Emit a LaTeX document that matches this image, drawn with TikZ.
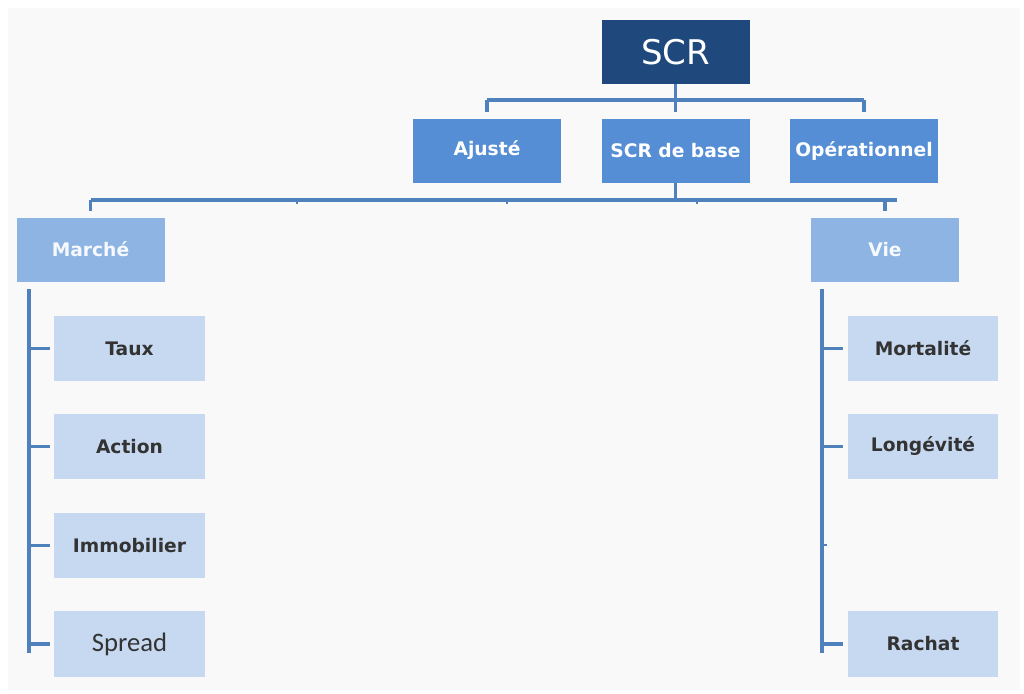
\documentclass[tikz,border=0pt]{standalone}
\usepackage{fontspec}
\setmainfont{DejaVu Sans}
\newfontfamily\carlito{Carlito}
\definecolor{navy}{HTML}{1F497D}
\definecolor{midblue}{HTML}{558ED5}
\definecolor{softblue}{HTML}{8DB4E2}
\definecolor{paleblue}{HTML}{C6D9F1}
\definecolor{linkblue}{HTML}{4F81BD}
\definecolor{bg}{HTML}{F9F9F9}
\definecolor{ink}{HTML}{333333}
\tikzset{
  box/.style={rectangle, inner sep=0pt, minimum width=111pt, minimum height=48pt},
  rootbox/.style={box, fill=navy, text=white, font=\fontsize{25.5}{30}\selectfont},
  levelone/.style={box, fill=midblue, text=white, font=\bfseries\fontsize{14}{16}\selectfont},
  leveltwo/.style={box, fill=softblue, text=white!92!softblue, font=\bfseries\fontsize{14}{16}\selectfont},
  leaf/.style={box, minimum width=113pt, minimum height=49pt, fill=paleblue, text=ink, font=\bfseries\fontsize{14}{16}\selectfont},
  link/.style={draw=linkblue, line width=2.3pt},
  spine/.style={draw=linkblue, line width=2.9pt},
  gap/.style={shorten >=4.5pt}
}
\begin{document}
\begin{tikzpicture}[x=0.75pt, y=-0.75pt]
\useasboundingbox (0,0) rectangle (1024,693);
\fill[white] (0,0) rectangle (1024,693);
\fill[bg] (8,8) rectangle (1020,690);

% boxes
\node[rootbox]  (scr)    at (675.5,52)  {SCR};
\node[levelone] (ajuste) at (487,150.5) {Ajusté};
\node[levelone] (base)   at (675.5,150.5) {SCR de base};
\node[levelone] (oper)   at (864,150.5) {Opérationnel};
\node[leveltwo] (marche) at (90.5,249.5) {Marché};
\node[leveltwo] (vie)    at (885,249.5) {Vie};

\node[leaf] (taux)  at (129.5,348.5) {Taux};
\node[leaf] (action) at (129.5,446.5) {Action};
\node[leaf] (immo)  at (129.5,545.5) {Immobilier};
\node[leaf, font=\carlito\fontsize{20}{22}\selectfont] (spread) at (129.5,644) {Spread};

\node[leaf] (mort)  at (923,348.5) {Mortalité};
\node[leaf] (longe) at (923,446.5) {Longévité};
\node[leaf] (rachat) at (923,644) {Rachat};

% first level of the tree
\coordinate (busA) at (675.5,100);
\draw[link] (ajuste.north |- busA) -- (oper.north |- busA);
\draw[link, gap] (ajuste.north |- busA) -- (ajuste.north);
\draw[link, gap] (oper.north |- busA) -- (oper.north);
\draw[link, gap] (scr.south) -- (base.north);

% second level
\coordinate (busB) at (675.5,200);
\coordinate (busBend) at (897,200);
\draw[link] (base.south) -- (busB);
\draw[link] (marche.north |- busB) -- (busBend);
\draw[link, gap] (marche.north |- busB) -- (marche.north);
\draw[link, gap] (vie.north |- busB) -- (vie.north);
\foreach \x in {297,507,697}
  \draw[link, line width=1.6pt] (\x,200) -- (\x,204);

% branches under Marché
\coordinate (ltop) at (29,289);
\coordinate (lbot) at (29,653);
\draw[spine] (ltop) -- (lbot);
\foreach \n in {taux,action,immo,spread}
  \draw[link, shorten >=3pt] (ltop |- \n.west) -- (\n.west);

% branches under Vie
\coordinate (rtop) at (822,289);
\coordinate (rbot) at (822,653);
\draw[spine] (rtop) -- (rbot);
\foreach \n in {mort,longe,rachat}
  \draw[link, shorten >=3pt] (rtop |- \n.west) -- (\n.west);
\draw[link, line width=1.6pt] (822,545) -- (827,545);
\end{tikzpicture}
\end{document}
